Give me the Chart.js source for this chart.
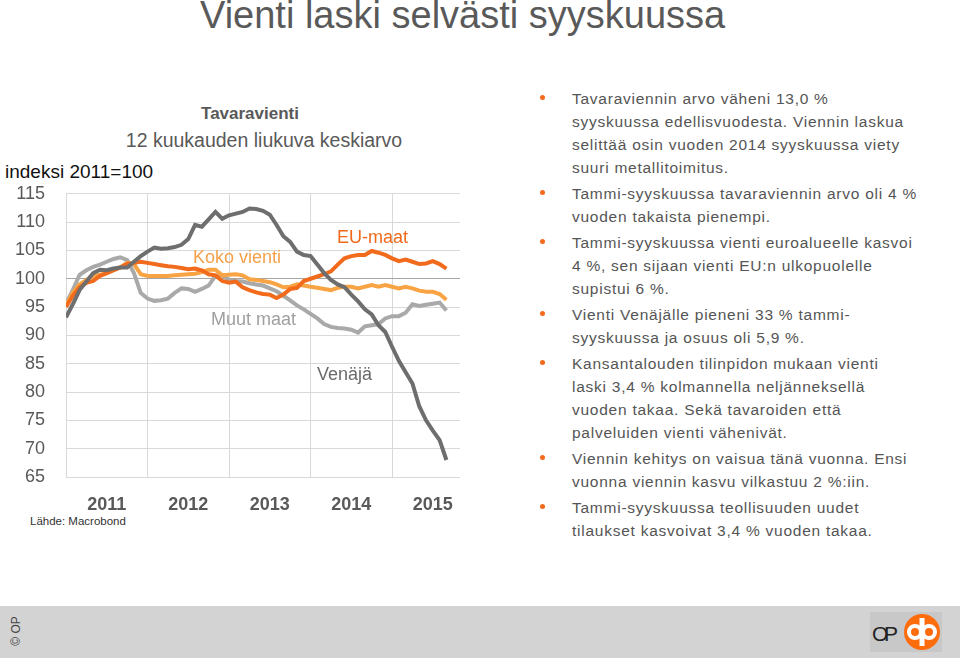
<!DOCTYPE html>
<html>
<head>
<meta charset="utf-8">
<script src="https://cdn.jsdelivr.net/npm/chart.js@4.4.0/dist/chart.umd.min.js"></script>
<style>
  body { margin: 0; width: 960px; height: 660px; position: relative; background: #fff;
         font-family: "Liberation Sans", Arial, sans-serif; overflow: hidden; }
  .abs { position: absolute; white-space: nowrap; }
  #title { left: 200px; top: -6px; font-size: 38px; color: #595959; }
  #ctitle { left: 250px; top: 104px; font-size: 17px; font-weight: bold; color: #595959; transform: translateX(-50%); }
  #csub { left: 264px; top: 129px; font-size: 19.5px; color: #595959; transform: translateX(-50%); }
  #yunit { left: 5px; top: 161px; font-size: 19px; color: #111; }
  #source { left: 30px; top: 515px; font-size: 11.5px; color: #333; }
  .lbl { font-size: 18px; }
  #chartBox { position: absolute; left: 0; top: 162px; width: 470px; height: 353px; }
  #bullets { left: 540px; top: 87px; font-size: 15.5px; color: #555; line-height: 23px; letter-spacing: 0.75px; }
  #bullets div { position: relative; padding-left: 32px; margin-bottom: 3px; }
  #bullets div::before { content: ""; position: absolute; left: 0; top: 8px; width: 5px; height: 5px;
         border-radius: 50%; background: #f26a1b; }
  #footer { position: absolute; left: 0; top: 606px; width: 960px; height: 52px; background: #d3d3d3; }
  #copy { position: absolute; left: 1px; top: 18px; font-size: 12px; color: #444;
          transform: rotate(-90deg); transform-origin: center; }
</style>
</head>
<body>
<div id="title" class="abs">Vienti laski selvästi syyskuussa</div>
<div id="ctitle" class="abs">Tavaravienti</div>
<div id="csub" class="abs">12 kuukauden liukuva keskiarvo</div>
<div id="yunit" class="abs">indeksi 2011=100</div>
<div id="chartBox"><canvas id="chart"></canvas></div>
<div class="abs lbl" style="left:193px;top:247px;color:#f5a04a">Koko vienti</div>
<div class="abs lbl" style="left:337px;top:227px;color:#f06a1b">EU-maat</div>
<div class="abs lbl" style="left:211px;top:309px;color:#a0a0a0">Muut maat</div>
<div class="abs lbl" style="left:317px;top:364px;color:#6b6b6b">Venäjä</div>
<div id="source" class="abs">Lähde: Macrobond</div>

<div id="bullets" class="abs">
  <div>Tavaraviennin arvo väheni 13,0 %<br>syyskuussa edellisvuodesta. Viennin laskua<br>selittää osin vuoden 2014 syyskuussa viety<br>suuri metallitoimitus.</div>
  <div>Tammi-syyskuussa tavaraviennin arvo oli 4 %<br>vuoden takaista pienempi.</div>
  <div>Tammi-syyskuussa vienti euroalueelle kasvoi<br>4 %, sen sijaan vienti EU:n ulkopuolelle<br>supistui 6 %.</div>
  <div>Vienti Venäjälle pieneni 33 % tammi-<br>syyskuussa ja osuus oli 5,9 %.</div>
  <div>Kansantalouden tilinpidon mukaan vienti<br>laski 3,4 % kolmannella neljänneksellä<br>vuoden takaa. Sekä tavaroiden että<br>palveluiden vienti vähenivät.</div>
  <div>Viennin kehitys on vaisua tänä vuonna. Ensi<br>vuonna viennin kasvu vilkastuu 2 %:iin.</div>
  <div>Tammi-syyskuussa teollisuuden uudet<br>tilaukset kasvoivat 3,4 % vuoden takaa.</div>
</div>

<div id="footer">
  <div id="copy">© OP</div>
  <svg style="position:absolute;left:870px;top:6px" width="72" height="40">
    <rect x="0" y="0" width="72" height="40" fill="#c8c8c8"/>
    <text x="2" y="29" font-family="Liberation Sans, Arial" font-size="21" fill="#222" textLength="26">OP</text>
    <circle cx="52" cy="20" r="18" fill="#ff6c0c"/>
    <circle cx="45" cy="20" r="6" fill="none" stroke="#fff" stroke-width="4"/>
    <circle cx="59" cy="20" r="6" fill="none" stroke="#fff" stroke-width="4"/>
    <rect x="49.5" y="6" width="5" height="28" fill="#fff"/>
  </svg>
</div>

<script>
// Tavaravienti, 12 kk liukuva keskiarvo, indeksi 2011=100, tammikuu 2011 - syyskuu 2015

var years = ['2011', '2012', '2013', '2014', '2015'];
var yTicks = [65, 70, 75, 80, 85, 90, 95, 100, 105, 110, 115];

var kokoVienti = [95.3, 97.5, 99.0, 99.8, 100.5, 100.7, 101.0, 101.5, 102.0, 102.8, 102.6, 100.8,
                  100.5, 100.5, 100.5, 100.5, 100.6, 100.7, 100.8, 100.9, 101.2, 101.6, 101.6, 100.6,
                  100.7, 100.8, 100.6, 99.9, 99.8, 99.6, 99.4, 99.0, 98.5, 98.6, 99.0, 98.8,
                  98.6, 98.4, 98.2, 98.0, 98.4, 98.6, 98.6, 98.3, 98.6, 98.9, 98.6, 98.9,
                  98.6, 98.3, 98.6, 98.3, 97.9, 97.7, 97.7, 97.3, 96.3];

var euMaat = [95.0, 97.0, 98.5, 99.3, 99.6, 100.5, 101.0, 101.5, 102.0, 102.6, 102.8, 103.0,
              102.8, 102.6, 102.4, 102.2, 102.1, 101.9, 101.7, 101.8, 101.5, 100.8, 100.6, 99.6,
              99.3, 99.5, 98.5, 98.0, 97.6, 97.3, 97.2, 96.6, 97.2, 98.2, 98.4, 99.6,
              100.0, 100.4, 100.8, 101.3, 102.5, 103.6, 104.0, 104.2, 104.2, 104.9, 104.6, 104.2,
              103.6, 103.1, 103.4, 103.0, 102.6, 102.7, 103.1, 102.6, 101.8];

var muutMaat = [95.6, 98.0, 100.7, 101.5, 102.1, 102.5, 103.0, 103.5, 103.8, 103.3, 101.0, 97.5,
                96.5, 96.1, 96.2, 96.5, 97.5, 98.3, 98.2, 97.7, 98.2, 98.8, 100.5, 100.6,
                99.8, 99.6, 99.5, 99.2, 99.0, 98.8, 98.3, 97.8, 97.0, 96.2, 95.3, 94.6,
                93.8, 93.0, 92.0, 91.5, 91.3, 91.2, 91.0, 90.5, 91.6, 91.8, 92.0, 93.0,
                93.4, 93.4, 94.0, 95.5, 95.2, 95.4, 95.6, 95.8, 94.4];

var venaja = [93.2, 95.5, 98.0, 99.5, 101.0, 101.6, 101.5, 101.8, 102.0, 102.0, 103.0, 104.0,
              104.8, 105.5, 105.3, 105.4, 105.6, 106.0, 107.0, 109.5, 109.2, 110.5, 111.8, 110.6,
              111.2, 111.5, 111.8, 112.4, 112.3, 112.0, 111.3, 109.5, 107.5, 106.5, 104.8, 104.2,
              104.0, 102.5, 101.0, 99.8, 99.0, 98.5, 97.2, 96.0, 94.6, 93.7, 91.8, 90.6,
              88.0, 85.5, 83.5, 81.5, 77.5, 75.0, 73.2, 71.5, 68.0];

function toPoints(arr) {
    return arr.map(function (v, i) { return { x: i, y: v }; });
}

function line(label, values, color) {
    return {
        label: label,
        data: toPoints(values),
        borderColor: color,
        backgroundColor: color,
        borderWidth: 4,
        pointRadius: 0,
        tension: 0,
        xAxisID: 'x',
        yAxisID: 'y'
    };
}

var gridColor = '#d9d9d9';

let chart = new Chart(document.getElementById('chart').getContext('2d'), {
    type: 'line',
    data: {
        datasets: [
            line('Venäjä', venaja, '#6e6e6e'),
            line('EU-maat', euMaat, '#f26a1b'),
            line('Koko vienti', kokoVienti, '#f9a444'),
            line('Muut maat', muutMaat, '#a9a9a9')
        ]
    },
    options: {
        responsive: true,
        maintainAspectRatio: false,
        animation: false,
        layout: { padding: { top: 0, right: 10, left: 0, bottom: 0 } },
        plugins: { legend: { display: false }, tooltip: { enabled: false } },
        scales: {
            x: {
                type: 'linear', min: 0, max: 58, position: 'bottom',
                afterBuildTicks: function (axis) {
                    axis.ticks = [0, 12, 24, 36, 48].map(function (v) { return { value: v }; });
                },
                afterFit: function (axis) { axis.height = 0; },
                ticks: { display: false },
                grid: { color: gridColor, drawTicks: false },
                border: { display: false }
            },
            xYears: {
                type: 'linear', min: 0, max: 58, position: 'bottom',
                afterBuildTicks: function (axis) {
                    axis.ticks = years.map(function (y, i) { return { value: 6 + i * 12 }; });
                },
                afterFit: function (axis) { axis.height = 38; },
                ticks: {
                    autoSkip: false, maxRotation: 0, padding: 9,
                    color: '#595959',
                    font: { family: 'Liberation Sans', size: 18, weight: 'bold' },
                    callback: function (v) { return years[(v - 6) / 12]; }
                },
                grid: { display: false },
                border: { display: false }
            },
            y: {
                min: 65, max: 115,
                afterBuildTicks: function (axis) {
                    axis.ticks = yTicks.map(function (v) { return { value: v }; });
                },
                afterFit: function (axis) { axis.width = 66; },
                ticks: {
                    padding: 21, color: '#595959',
                    font: { family: 'Liberation Sans', size: 18 }
                },
                grid: {
                    drawTicks: false,
                    color: function (ctx) { return ctx.tick && ctx.tick.value === 100 ? '#a6a6a6' : gridColor; }
                },
                border: { display: false }
            }
        }
    }
});
</script>
</body>
</html>
